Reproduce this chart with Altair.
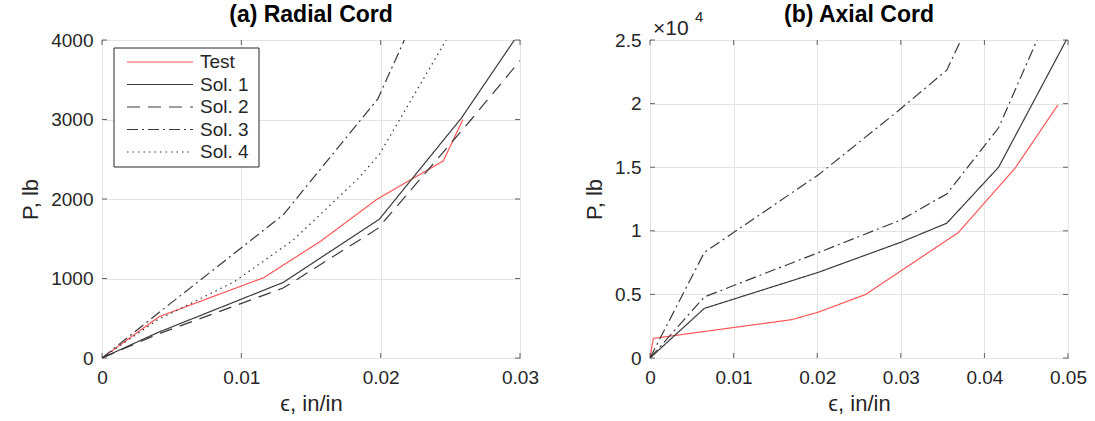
import altair as alt
import pandas as pd

FONT = "Liberation Sans"
TXT = "#262626"
GRID = "#e4e4e4"
LINE = "#3a3a3a"
RED = "#ff5656"

# ---------------- data: (a) Radial Cord ----------------
series_a = ["Test", "Sol. 1", "Sol. 2", "Sol. 3", "Sol. 4"]
a_test_x = [0, 0.0041, 0.0116, 0.0157, 0.0198, 0.0245, 0.0259]
a_test_y = [0, 520, 1010, 1470, 2005, 2480, 3000]
a_sol1_x = [0, 0.004, 0.013, 0.0199, 0.0258, 0.0296]
a_sol1_y = [0, 320, 950, 1745, 3020, 4000]
a_sol2_x = [0, 0.004, 0.013, 0.0198, 0.0265, 0.030]
a_sol2_y = [0, 300, 880, 1630, 3000, 3740]
a_sol3_x = [0, 0.004, 0.013, 0.0198, 0.0217]
a_sol3_y = [0, 560, 1800, 3260, 4000]
a_sol4_x = [0, 0.004, 0.0095, 0.0137, 0.0184, 0.0199, 0.0247]
a_sol4_y = [0, 480, 960, 1480, 2260, 2560, 4000]

# ---------------- data: (b) Axial Cord ----------------
series_b = ["Test", "Sol. 1", "Sol. 2", "Sol. 3"]
b_test_x = [0, 0.0004, 0.017, 0.0202, 0.0258, 0.0369, 0.0437, 0.0488]
b_test_y = [0, 1540, 3020, 3620, 5000, 9870, 14950, 19900]
b_sol1_x = [0, 0.0065, 0.0202, 0.030, 0.0355, 0.0417, 0.0498]
b_sol1_y = [0, 3900, 6750, 9100, 10600, 15000, 25000]
b_sol2_x = [0, 0.0065, 0.0202, 0.030, 0.0355, 0.0417, 0.0463]
b_sol2_y = [0, 4800, 8300, 10850, 12900, 18100, 25000]
b_sol3_x = [0, 0.0065, 0.0202, 0.0296, 0.0355, 0.0372]
b_sol3_y = [0, 8300, 14430, 19380, 22630, 25000]

# tick values
a_xticks = [0, 0.01, 0.02, 0.03]
a_yticks = [0, 1000, 2000, 3000, 4000]
b_xticks = [0, 0.01, 0.02, 0.03, 0.04, 0.05]
b_yticks = [0, 5000, 10000, 15000, 20000, 25000]

titles = ["(a) Radial Cord", "(b) Axial Cord"]
exp_text = ["×10", "4"]

# styles
a_colors = [RED, LINE, LINE, LINE, LINE]
a_dashes = [[1, 0], [1, 0], [13, 8], [11, 4, 2, 4], [1.5, 4]]
b_colors = [RED, LINE, LINE, LINE]
b_dashes = [[1, 0], [1, 0], [11, 4, 2, 4], [11, 4, 2, 4]]


def to_long(items):
    rows = []
    for name, xs, ys in items:
        for i, (x, y) in enumerate(zip(xs, ys)):
            rows.append({"series": name, "eps": x, "P": y, "idx": i})
    return pd.DataFrame(rows)


df_a = to_long([
    ("Test", a_test_x, a_test_y), ("Sol. 1", a_sol1_x, a_sol1_y),
    ("Sol. 2", a_sol2_x, a_sol2_y), ("Sol. 3", a_sol3_x, a_sol3_y),
    ("Sol. 4", a_sol4_x, a_sol4_y)])
df_b = to_long([
    ("Test", b_test_x, b_test_y), ("Sol. 1", b_sol1_x, b_sol1_y),
    ("Sol. 2", b_sol2_x, b_sol2_y), ("Sol. 3", b_sol3_x, b_sol3_y)])

W, H = 418, 318
XLAB = "datum.value == 0 ? '0' : format(datum.value, '.2f')"


def panel(df, names, colors, dashes, xdom, xticks, ydom, yticks, ylabexpr, title):
    xs = alt.Scale(domain=xdom, nice=False, zero=False)
    ys = alt.Scale(domain=ydom, nice=False)
    lines = alt.Chart(df).mark_line(strokeWidth=1.2, clip=True).encode(
        x=alt.X("eps:Q", scale=xs,
                axis=alt.Axis(values=xticks, title="ϵ, in/in", labelExpr=XLAB)),
        y=alt.Y("P:Q", scale=ys,
                axis=alt.Axis(values=yticks, title="P, lb", labelExpr=ylabexpr)),
        color=alt.Color("series:N", scale=alt.Scale(domain=names, range=colors), legend=None),
        strokeDash=alt.StrokeDash("series:N", scale=alt.Scale(domain=names, range=dashes), legend=None),
        order=alt.Order("idx:Q"),
    ).properties(width=W, height=H)
    xt = pd.DataFrame({"v": xticks})
    yt = pd.DataFrame({"v": yticks})
    tk = dict(color=TXT, thickness=1, size=5)
    t_bot = alt.Chart(xt).mark_tick(orient="vertical", **tk).encode(
        x=alt.X("v:Q", scale=xs), y=alt.value(H - 2.5))
    t_top = alt.Chart(xt).mark_tick(orient="vertical", **tk).encode(
        x=alt.X("v:Q", scale=xs), y=alt.value(2.5))
    t_lft = alt.Chart(yt).mark_tick(orient="horizontal", **tk).encode(
        y=alt.Y("v:Q", scale=ys), x=alt.value(2.5))
    t_rgt = alt.Chart(yt).mark_tick(orient="horizontal", **tk).encode(
        y=alt.Y("v:Q", scale=ys), x=alt.value(W - 2.5))
    ttl = alt.Chart(pd.DataFrame({"t": [title]})).mark_text(
        align="center", baseline="middle", font=FONT, fontSize=23,
        fontWeight="bold", color="black").encode(
        x=alt.value(W / 2), y=alt.value(-25), text="t:N")
    return alt.layer(lines, t_bot, t_top, t_lft, t_rgt, ttl)


core_a = panel(df_a, series_a, a_colors, a_dashes, [0, 0.03], a_xticks, [0, 4000], a_yticks,
               "format(datum.value, 'd')", titles[0])
core_b = panel(df_b, series_b, b_colors, b_dashes, [0, 0.05], b_xticks, [0, 25000], b_yticks,
               "'' + (datum.value / 10000)", titles[1])

# manual legend for panel (a)
leg_df = pd.DataFrame({"series": series_a, "row": list(range(len(series_a)))})
leg_y = alt.Y("row:Q", scale=alt.Scale(domain=[0, 4], range=[22, 112]), axis=None)
box = alt.Chart(pd.DataFrame({"b": [0]})).mark_rect(
    fill="white", stroke=TXT, strokeWidth=1).encode(
    x=alt.value(12), x2=alt.value(157), y=alt.value(8), y2=alt.value(127))
leg_rules = alt.Chart(leg_df).mark_rule(strokeWidth=1.2).encode(
    x=alt.value(25), x2=alt.value(91), y=leg_y,
    color=alt.Color("series:N", scale=alt.Scale(domain=series_a, range=a_colors), legend=None),
    strokeDash=alt.StrokeDash("series:N", scale=alt.Scale(domain=series_a, range=a_dashes), legend=None))
leg_text = alt.Chart(leg_df).mark_text(
    align="left", baseline="middle", font=FONT, fontSize=19, color=TXT).encode(
    x=alt.value(98), y=leg_y, text="series:N")
legend = alt.layer(box, leg_rules, leg_text)

left = alt.layer(core_a, legend).resolve_scale(y="independent")

# exponent label for panel (b)
t1 = alt.Chart(pd.DataFrame({"t": [exp_text[0]]})).mark_text(
    align="left", baseline="middle", font=FONT, fontSize=21, color=TXT).encode(
    x=alt.value(3), y=alt.value(-11), text="t:N")
t2 = alt.Chart(pd.DataFrame({"t": [exp_text[1]]})).mark_text(
    align="left", baseline="middle", font=FONT, fontSize=15, color=TXT).encode(
    x=alt.value(45), y=alt.value(-23), text="t:N")
right = alt.layer(core_b, t1, t2)

chart = alt.hconcat(left, right, spacing=44).resolve_scale(
    color="independent", strokeDash="independent"
).properties(
    padding={"left": 19, "top": 3, "right": 2, "bottom": 2},
    background="white",
).configure_view(
    stroke=TXT, strokeWidth=1
).configure_axis(
    grid=True, gridColor=GRID, gridWidth=1, domain=False, ticks=False,
    labelFont=FONT, labelFontSize=19, labelColor=TXT, labelPadding=9,
    labelFlush=False, labelOverlap=False,
    titleFont=FONT, titleFontSize=22, titleFontWeight="normal", titleColor=TXT,
    titlePadding=8,
).configure_axisX(labelPadding=10, titlePadding=6)

chart.save("out.html", embed_options={"renderer": "svg", "actions": False})
